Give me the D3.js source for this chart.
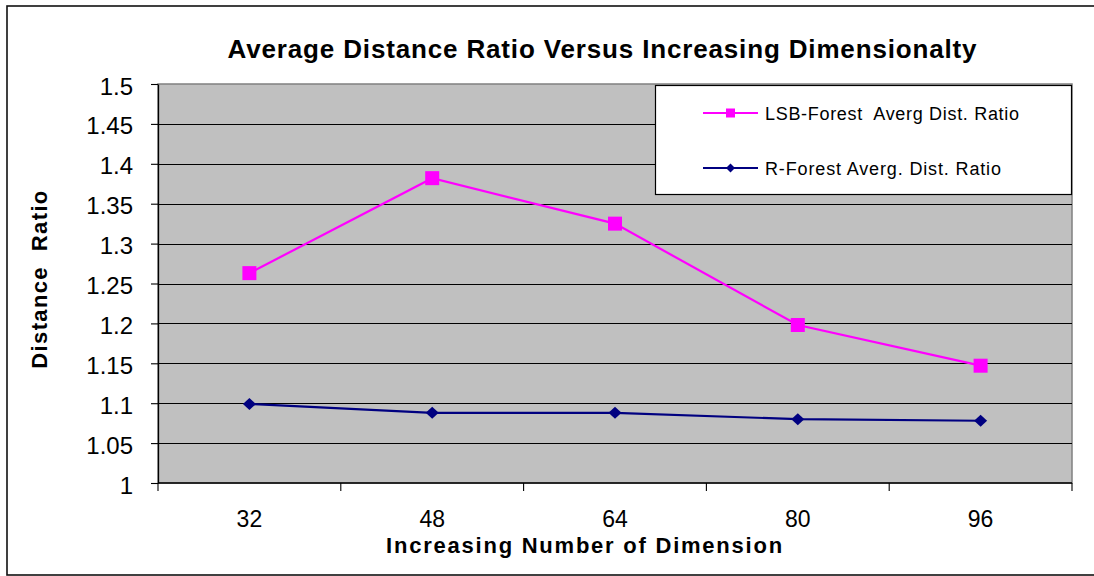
<!DOCTYPE html>
<html>
<head>
<meta charset="utf-8">
<script src="https://cdn.jsdelivr.net/npm/d3@7"></script>
<style>
  html, body { margin: 0; padding: 0; background: #fff; }
  svg { display: block; font-family: Arial, "Liberation Sans", sans-serif; }
</style>
</head>
<body>
<svg id="chart" width="1094" height="576"></svg>
<script>
// Chart data
const dimensions = ["32", "48", "64", "80", "96"];
const lsbForest = [1.263, 1.382, 1.325, 1.198, 1.147];
const rForest = [1.099, 1.088, 1.088, 1.080, 1.078];
const yTicks = [1, 1.05, 1.1, 1.15, 1.2, 1.25, 1.3, 1.35, 1.4, 1.45, 1.5];
const seriesNames = ["LSB-Forest  Averg Dist. Ratio", "R-Forest Averg. Dist. Ratio"];
const chartTitle = "Average Distance Ratio Versus Increasing Dimensionalty";
const xTitle = "Increasing Number of Dimension";
const yTitle = "Distance  Ratio";

const svg = d3.select("#chart");

// Outer frame
svg.append("rect")
  .attr("x", 7).attr("y", 6).attr("width", 1110).attr("height", 569)
  .attr("fill", "#fff").attr("stroke", "#111").attr("stroke-width", 1.6);

const plot = { left: 158, top: 84, right: 1072, bottom: 483 };

const x = d3.scaleBand().domain(dimensions).range([plot.left, plot.right]).padding(0);
const y = d3.scaleLinear().domain([1, 1.5]).range([plot.bottom, plot.top]);

// Plot area background
svg.append("rect")
  .attr("x", plot.left).attr("y", plot.top)
  .attr("width", plot.right - plot.left).attr("height", plot.bottom - plot.top)
  .attr("fill", "#c0c0c0").attr("stroke", "#808080").attr("stroke-width", 1.5);

// Horizontal gridlines
svg.append("g").selectAll("line")
  .data(yTicks.filter(d => d > 1 && d < 1.5))
  .join("line")
  .attr("x1", plot.left).attr("x2", plot.right)
  .attr("y1", d => Math.round(y(d)) + 0.5).attr("y2", d => Math.round(y(d)) + 0.5)
  .attr("stroke", "#000").attr("stroke-width", 1.1);

// Y axis
const yAxis = d3.axisLeft(y).tickValues(yTicks).tickSize(7).tickSizeOuter(0)
  .tickFormat(d => d3.format("")(+d.toFixed(2)));
const yg = svg.append("g").attr("transform", `translate(${plot.left},0)`).call(yAxis);
yg.select(".domain").attr("stroke", "#000").attr("stroke-width", 1.3);
yg.selectAll(".tick line").attr("stroke", "#000").attr("stroke-width", 1.1);
yg.selectAll(".tick text")
  .attr("x", -25).attr("dy", "0.42em")
  .attr("font-size", 24).attr("fill", "#000")
  .attr("font-family", "Arial, 'Liberation Sans', sans-serif");

// X axis: ticks at band boundaries, labels at band centers
const boundaries = dimensions.map(d => x(d)).concat([x(dimensions[dimensions.length - 1]) + x.bandwidth()]);
const xg = svg.append("g");
xg.append("line")
  .attr("x1", plot.left).attr("x2", plot.right)
  .attr("y1", plot.bottom).attr("y2", plot.bottom)
  .attr("stroke", "#000").attr("stroke-width", 1.5);
xg.selectAll("line.tk").data(boundaries).join("line").attr("class", "tk")
  .attr("x1", d => d).attr("x2", d => d)
  .attr("y1", plot.bottom).attr("y2", plot.bottom + 8)
  .attr("stroke", "#000").attr("stroke-width", 1.1);
xg.selectAll("text").data(dimensions).join("text")
  .attr("x", d => x(d) + x.bandwidth() / 2)
  .attr("y", 527)
  .attr("text-anchor", "middle")
  .attr("font-size", 23).attr("fill", "#000")
  .text(d => d);

// Series lines and markers
const line = d3.line()
  .x((d, i) => x(dimensions[i]) + x.bandwidth() / 2)
  .y(d => y(d));

svg.append("path").datum(lsbForest)
  .attr("d", line).attr("fill", "none")
  .attr("stroke", "#ff00ff").attr("stroke-width", 2.2);
svg.append("path").datum(rForest)
  .attr("d", line).attr("fill", "none")
  .attr("stroke", "#000080").attr("stroke-width", 2.2);

svg.append("g").selectAll("rect").data(lsbForest).join("rect")
  .attr("x", (d, i) => x(dimensions[i]) + x.bandwidth() / 2 - 7)
  .attr("y", d => y(d) - 7)
  .attr("width", 14).attr("height", 14)
  .attr("fill", "#ff00ff");

const diamond = (cx, cy, w, h) => `M${cx},${cy - h / 2}L${cx + w / 2},${cy}L${cx},${cy + h / 2}L${cx - w / 2},${cy}Z`;
svg.append("g").selectAll("path").data(rForest).join("path")
  .attr("d", (d, i) => diamond(x(dimensions[i]) + x.bandwidth() / 2, y(d), 13, 12))
  .attr("fill", "#000080");

// Legend
const lg = svg.append("g");
lg.append("rect")
  .attr("x", 655.5).attr("y", 85.5).attr("width", 416).attr("height", 109)
  .attr("fill", "#fff").attr("stroke", "#000").attr("stroke-width", 1.2);
const legendRows = [
  { name: seriesNames[0], color: "#ff00ff", marker: "square", cy: 113, tx: 765, width: 254 },
  { name: seriesNames[1], color: "#000080", marker: "diamond", cy: 168, tx: 765, width: 236 }
];
legendRows.forEach(r => {
  lg.append("line").attr("x1", 703).attr("x2", 758).attr("y1", r.cy).attr("y2", r.cy)
    .attr("stroke", r.color).attr("stroke-width", 2.2);
  if (r.marker === "square") {
    lg.append("rect").attr("x", 726).attr("y", r.cy - 4.5).attr("width", 9).attr("height", 9).attr("fill", r.color);
  } else {
    lg.append("path").attr("d", diamond(730.5, r.cy, 9, 9)).attr("fill", r.color);
  }
  const t = lg.append("text").attr("x", r.tx).attr("y", r.cy + 7)
    .attr("font-size", 18).attr("fill", "#000").attr("xml:space", "preserve").text(r.name);
  fitWidth(t, r.width);
});

// Titles
const title = svg.append("text").attr("x", 602.5).attr("y", 58)
  .attr("text-anchor", "middle").attr("font-size", 26).attr("font-weight", "bold")
  .attr("fill", "#000").text(chartTitle);
fitWidth(title, 749);

const xt = svg.append("text").attr("x", 585).attr("y", 553)
  .attr("text-anchor", "middle").attr("font-size", 22).attr("font-weight", "bold")
  .attr("fill", "#000").text(xTitle);
fitWidth(xt, 396);

const yt = svg.append("text")
  .attr("transform", "translate(47,279) rotate(-90)")
  .attr("text-anchor", "middle").attr("font-size", 22).attr("font-weight", "bold")
  .attr("fill", "#000").attr("xml:space", "preserve").text(yTitle);
fitWidth(yt, 178);

// Spread letters so a text run spans the given width
function fitWidth(sel, target) {
  const node = sel.node();
  const len = node.getComputedTextLength();
  const n = node.textContent.length;
  if (n > 1) sel.attr("letter-spacing", ((target - len) / (n - 1)).toFixed(3));
}
</script>
</body>
</html>
